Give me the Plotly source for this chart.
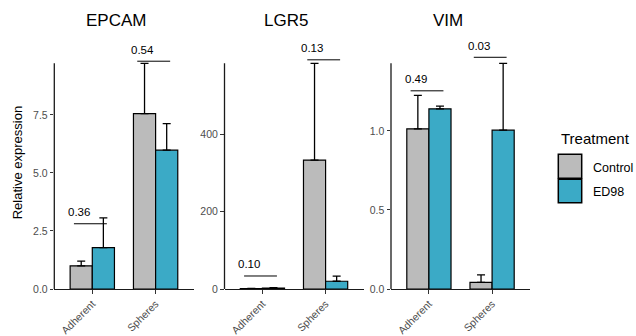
import plotly.graph_objects as go

# ---------------- data ----------------
categories = ["Adherent", "Spheres"]
genes = ["EPCAM", "LGR5", "VIM"]
treatments = ["Control", "ED98"]

epcam_control = [1.0, 7.55]
epcam_control_err = [0.2, 2.17]
epcam_ed98 = [1.78, 5.98]
epcam_ed98_err = [1.28, 1.14]

lgr5_control = [0.8, 333]
lgr5_control_err = [0.6, 250]
lgr5_ed98 = [2.5, 20]
lgr5_ed98_err = [1.0, 13]

vim_control = [1.013, 0.042]
vim_control_err = [0.211, 0.047]
vim_ed98 = [1.139, 1.004]
vim_ed98_err = [0.017, 0.423]

epcam_p = ["0.36", "0.54"]
lgr5_p = ["0.10", "0.13"]
vim_p = ["0.49", "0.03"]
epcam_bracket_y = [2.81, 9.81]
lgr5_bracket_y = [33.6, 592]
vim_bracket_y = [1.253, 1.465]

epcam_ticks = [0, 2.5, 5, 7.5]
epcam_ticktext = ["0.0", "2.5", "5.0", "7.5"]
lgr5_ticks = [0, 200, 400]
lgr5_ticktext = ["0", "200", "400"]
vim_ticks = [0, 0.5, 1.0]
vim_ticktext = ["0.0", "0.5", "1.0"]

# ---------------- style ----------------
W, H = 636, 336
FONT = "Liberation Sans, Arial, sans-serif"
GRAY = "#BBBBBB"
TEAL = "#3BAAC6"
colors = [GRAY, TEAL]
AX = "#1a1a1a"
TICKC = "#4d4d4d"

def px(x):
    return x / W

def py(y):
    return 1 - y / H

panel_px = [(54.3, 193.6), (224.5, 363.5), (391.0, 530.0)]
base_px, top_px, head = 289.0, 63.3, 1.1
ydom = [py(base_px), py(base_px - (base_px - top_px) * head)]

panels = [
    (epcam_control, epcam_control_err, epcam_ed98, epcam_ed98_err, epcam_p, epcam_bracket_y, epcam_ticks, epcam_ticktext),
    (lgr5_control, lgr5_control_err, lgr5_ed98, lgr5_ed98_err, lgr5_p, lgr5_bracket_y, lgr5_ticks, lgr5_ticktext),
    (vim_control, vim_control_err, vim_ed98, vim_ed98_err, vim_p, vim_bracket_y, vim_ticks, vim_ticktext),
]
title_px = [116.3, 286.3, 448.3]

fig = go.Figure()
shapes = []
annotations = []
layout = dict(
    template="none",
    width=W, height=H, margin=dict(l=0, r=0, t=0, b=0, pad=0, autoexpand=False),
    paper_bgcolor="white", plot_bgcolor="white",
    barmode="group", bargap=0.3, bargroupgap=0,
    showlegend=False, font=dict(family=FONT),
)

for k, (c, ce, e, ee, pl, by, tv, tt) in enumerate(panels):
    sfx = "" if k == 0 else str(k + 1)
    xa, ya = "x" + sfx, "y" + sfx
    for vals, errs, name, col in [(c, ce, treatments[0], colors[0]), (e, ee, treatments[1], colors[1])]:
        fig.add_trace(go.Bar(
            x=categories, y=vals, name=name, xaxis=xa, yaxis=ya,
            marker=dict(color=col, line=dict(color="black", width=1.2)),
            error_y=dict(type="data", symmetric=False, array=errs,
                         arrayminus=[0] * len(errs), color="black",
                         thickness=1.3, width=4),
            offsetgroup=name,
        ))
    ymax = max(max(v + s for v, s in zip(c, ce)), max(v + s for v, s in zip(e, ee)))
    layout["xaxis" + sfx] = dict(
        domain=[px(panel_px[k][0]), px(panel_px[k][1])], anchor=ya,
        type="category", range=[-0.6, 1.6], showline=True, linecolor=AX,
        linewidth=1.3, ticks="outside", ticklen=3.5, tickwidth=1.1,
        tickcolor="#333333", tickangle=-45, showgrid=False, zeroline=False,
        automargin=False,
        tickfont=dict(size=10.5, color=TICKC, family=FONT),
    )
    layout["yaxis" + sfx] = dict(
        domain=ydom, anchor=xa, range=[0, ymax * head], showline=False,
        ticks="outside", ticklen=3.5, tickwidth=1.1, tickcolor="#333333",
        tickvals=tv, ticktext=tt, showgrid=False, zeroline=False,
        automargin=False,
        tickfont=dict(size=10.5, color=TICKC, family=FONT),
    )
    # y axis line up to top of data
    shapes.append(dict(type="line", xref=xa + " domain", yref=ya, x0=0, x1=0,
                       y0=0, y1=ymax, line=dict(color=AX, width=1.3)))
    # significance brackets
    for i, (lab, yy) in enumerate(zip(pl, by)):
        shapes.append(dict(type="line", xref=xa, yref=ya, x0=i - 0.29, x1=i + 0.23,
                           y0=yy, y1=yy, line=dict(color="black", width=1)))
        annotations.append(dict(x=i - 0.03, y=yy, xref=xa, yref=ya, text=lab,
                                showarrow=False, xshift=-11.5, yshift=11.5,
                                xanchor="center", yanchor="middle",
                                font=dict(size=11.5, color="black", family=FONT)))
    annotations.append(dict(x=px(title_px[k]), y=py(20), xref="paper", yref="paper",
                            text=genes[k], showarrow=False, xanchor="center",
                            yanchor="middle", font=dict(size=17, color="black", family=FONT)))

# y axis title
annotations.append(dict(x=px(17), y=py(163.3), xref="paper", yref="paper",
                        text="Relative expression", showarrow=False, textangle=-90,
                        xanchor="center", yanchor="middle",
                        font=dict(size=13, color="black", family=FONT)))

# legend
annotations.append(dict(x=px(558.5), y=py(138.5), xref="paper", yref="paper",
                        text="Treatment", showarrow=False, xanchor="left", yanchor="middle",
                        font=dict(size=15, color="black", family=FONT)))
key_rows = [(154.3, 178.3, 167.5), (179.3, 202.7, 192.0)]
for (y0, y1, yt), name, col in zip(key_rows, treatments, colors):
    shapes.append(dict(type="rect", xref="paper", yref="paper",
                       x0=px(558.3), x1=px(581.7), y0=py(y1), y1=py(y0),
                       fillcolor=col, line=dict(color="black", width=1.5)))
    annotations.append(dict(x=px(590.5), y=py(yt), xref="paper", yref="paper",
                            text=name, showarrow=False, xanchor="left", yanchor="middle",
                            font=dict(size=12.5, color="black", family=FONT)))

layout["shapes"] = shapes
layout["annotations"] = annotations
fig.update_layout(**layout)
fig.write_html("out.html")
